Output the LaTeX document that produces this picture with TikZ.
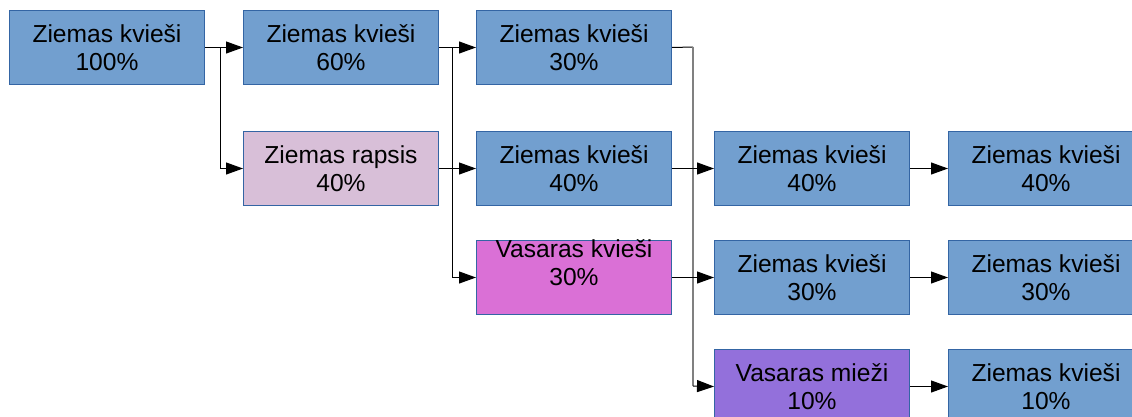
\documentclass[tikz,border=0pt]{standalone}
\usepackage{fontspec}
\setmainfont{Liberation Sans}
\usetikzlibrary{arrows.meta}
\definecolor{boxblue}{HTML}{729FCF}
\definecolor{boxedge}{HTML}{3465A4}
\definecolor{thistle}{HTML}{D8BFD8}
\definecolor{orchid}{HTML}{DA70D6}
\definecolor{mpurple}{HTML}{9370DB}
\tikzset{
  txt/.style={align=center, font=\fontsize{24.6}{28}\selectfont},
  cell/.style={txt, draw=boxedge, line width=1pt, fill=boxblue, minimum width=195pt, minimum height=74pt,
    inner sep=0pt, anchor=north west},
  conn/.style={line width=1pt, -{Triangle[length=17pt,width=12pt]}},
  plain/.style={line width=1pt},
}
\begin{document}
\begin{tikzpicture}[x=1pt,y=-1pt]
\useasboundingbox (0,0) rectangle (1132,416);
\clip (0,0) rectangle (1132,416);
% column 1
\node[cell] (A1) at (9,10) {Ziemas kvieši\\100\%};
% column 2
\node[cell] (B1) at (243,10) {Ziemas kvieši\\60\%};
\node[cell, fill=thistle] (B2) at (243,131) {Ziemas rapsis\\40\%};
% column 3
\node[cell] (C1) at (476,10) {Ziemas kvieši\\30\%};
\node[cell] (C2) at (476,131) {Ziemas kvieši\\40\%};
\node[cell, fill=orchid] (C3) at (476,240) {};
\node[txt] (C3t) at ([yshift=15pt]C3.center) {Vasaras kvieši\\30\%};
% column 4
\node[cell] (D1) at (714,131) {Ziemas kvieši\\40\%};
\node[cell] (D2) at (714,240) {Ziemas kvieši\\30\%};
\node[cell, fill=mpurple] (D3) at (714,349) {Vasaras mieži\\10\%};
% column 5
\node[cell] (E1) at (948,131) {Ziemas kvieši\\40\%};
\node[cell] (E2) at (948,240) {Ziemas kvieši\\30\%};
\node[cell] (E3) at (948,349) {Ziemas kvieši\\10\%};
% connectors
\draw[conn] (A1.east) -- (B1.west);
\draw[conn] (A1.east) -- ++(15,0) |- (B2.west);
\draw[conn] (B1.east) -- (C1.west);
\draw[conn] (B2.east) -- (C2.west);
\draw[conn] (B1.east) -- ++(13,0) |- (C3.west);
\coordinate (s1) at (693,47);
\coordinate (s2) at (693,386);
\draw[plain] (C1.east) -- (s1);
\draw[line width=2pt, black!50] (s1) -- (s2);
\draw[conn] (s2) -- (D3.west);
\draw[conn] (C2.east) -- (D1.west);
\draw[conn] (C3.east) -- (D2.west);
\draw[conn] (D1.east) -- (E1.west);
\draw[conn] (D2.east) -- (E2.west);
\draw[conn] (D3.east) -- (E3.west);
\end{tikzpicture}
\end{document}
